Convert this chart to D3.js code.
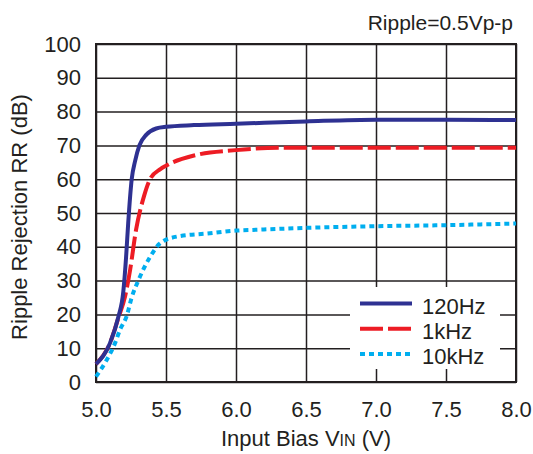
<!DOCTYPE html>
<html>
<head>
<meta charset="utf-8">
<script src="https://cdn.jsdelivr.net/npm/d3@7"></script>
<style>
    body { margin: 0; background: #fff; }
    svg { display: block; font-family: "Liberation Sans", Arial, sans-serif; }
</style>
</head>
<body>
<div id="chart"></div>
<script>
// readings (input bias V, ripple rejection dB)
const vin120 = [5.0, 5.1, 5.16, 5.195, 5.215, 5.23, 5.255, 5.28, 5.31, 5.36, 5.43, 5.5, 5.7, 6.0, 6.5, 7.0, 7.5, 8.0];
const rr120  = [5.3, 11.5, 19.3, 26.7, 37, 47, 60, 65.5, 70, 73.2, 75, 75.5, 76, 76.4, 77.1, 77.6, 77.6, 77.5];

const vin1k = [5.0, 5.1, 5.16, 5.207, 5.243, 5.286, 5.343, 5.386, 5.46, 5.5, 5.7, 6.0, 6.3, 7.0, 8.0];
const rr1k  = [5.3, 11.5, 19, 25.2, 33, 45, 55, 60, 63, 64, 67, 68.6, 69.3, 69.3, 69.3];

const vin10k = [5.0, 5.076, 5.136, 5.171, 5.219, 5.255, 5.302, 5.386, 5.457, 5.576, 5.814, 6.0, 6.12, 6.5, 7.0, 7.5, 8.0];
const rr10k  = [1.6, 6.5, 11.5, 15.4, 19.5, 25, 30, 37, 41, 43, 44, 44.8, 45, 45.6, 46.1, 46.4, 46.9];

const seriesNames = ["120Hz", "1kHz", "10kHz"];
const xTicks = [5.0, 5.5, 6.0, 6.5, 7.0, 7.5, 8.0];
const yTicks = [0, 10, 20, 30, 40, 50, 60, 70, 80, 90, 100];

const width = 533, height = 454;
const margin = {top: 44, right: 17, bottom: 72, left: 96};
const plotW = width - margin.left - margin.right;
const plotH = height - margin.top - margin.bottom;

const styles = [
    {color: "#2e3192", dash: null},
    {color: "#ed1c24", dash: "23,5"},
    {color: "#00aeef", dash: "5,4"}
];

const series = [
    vin120.map((v, i) => ({x: v, y: rr120[i]})),
    vin1k.map((v, i) => ({x: v, y: rr1k[i]})),
    vin10k.map((v, i) => ({x: v, y: rr10k[i]}))
];

let svg = d3.select("#chart")
    .append("svg")
    .attr("width", width)
    .attr("height", height);

let x = d3.scaleLinear().domain([5, 8]).range([0, plotW]);
let y = d3.scaleLinear().domain([0, 100]).range([plotH, 0]);

let g = svg.append("g")
    .attr("transform", "translate(" + margin.left + "," + margin.top + ")");

// grid + tick labels
let xAxis = g.append("g")
    .attr("transform", "translate(0," + plotH + ")")
    .call(d3.axisBottom(x).tickValues(xTicks).tickFormat(d3.format(".1f"))
        .tickSizeInner(-plotH).tickSizeOuter(0).tickPadding(19));

let yAxis = g.append("g")
    .call(d3.axisLeft(y).tickValues(yTicks).tickFormat(d3.format("d"))
        .tickSizeInner(-plotW).tickSizeOuter(0).tickPadding(15));

[xAxis, yAxis].forEach(function (a) {
    a.select(".domain").remove();
    a.selectAll("line").attr("stroke", "#231f20").attr("stroke-width", 1.5);
    a.selectAll("text").attr("fill", "#231f20").attr("font-size", 22)
        .attr("font-family", "Liberation Sans, Arial, sans-serif");
});

g.append("rect")
    .attr("width", plotW)
    .attr("height", plotH)
    .attr("fill", "none")
    .attr("stroke", "#231f20")
    .attr("stroke-width", 2);

// legend background sits over the grid
let legend = g.append("g")
    .attr("transform", "translate(" + (350 - margin.left) + "," + (287 - margin.top) + ")");

legend.append("rect")
    .attr("width", 150)
    .attr("height", 82)
    .attr("fill", "#fff");

let line = d3.line()
    .x(d => x(d.x))
    .y(d => y(d.y))
    .curve(d3.curveMonotoneX);

// draw 10kHz first so 120Hz sits on top
[2, 1, 0].forEach(function (i) {
    g.append("path")
        .datum(series[i])
        .attr("fill", "none")
        .attr("stroke", styles[i].color)
        .attr("stroke-width", 4)
        .attr("stroke-dasharray", styles[i].dash)
        .attr("d", line);
});

seriesNames.forEach(function (name, i) {
    let row = legend.append("g")
        .attr("transform", "translate(0," + (16.5 + i * 25.3) + ")");
    row.append("line")
        .attr("x1", 10).attr("x2", 62)
        .attr("stroke", styles[i].color)
        .attr("stroke-width", 4)
        .attr("stroke-dasharray", styles[i].dash);
    row.append("text")
        .attr("x", 72)
        .attr("y", 10)
        .attr("font-size", 22)
        .attr("fill", "#231f20")
        .text(name);
});

// axis titles
let xt = svg.append("text")
    .attr("x", margin.left + plotW / 2)
    .attr("y", 446)
    .attr("text-anchor", "middle")
    .attr("font-size", 22)
    .attr("fill", "#231f20");
xt.append("tspan").text("Input Bias V");
xt.append("tspan").attr("font-size", 16).text("IN");
xt.append("tspan").text(" (V)");

svg.append("text")
    .attr("transform", "translate(27," + 217 + ") rotate(-90)")
    .attr("text-anchor", "middle")
    .attr("font-size", 22)
    .attr("fill", "#231f20")
    .text("Ripple Rejection RR (dB)");

svg.append("text")
    .attr("x", 513)
    .attr("y", 30)
    .attr("text-anchor", "end")
    .attr("font-size", 21)
    .attr("fill", "#231f20")
    .text("Ripple=0.5Vp-p");
</script>
</body>
</html>
